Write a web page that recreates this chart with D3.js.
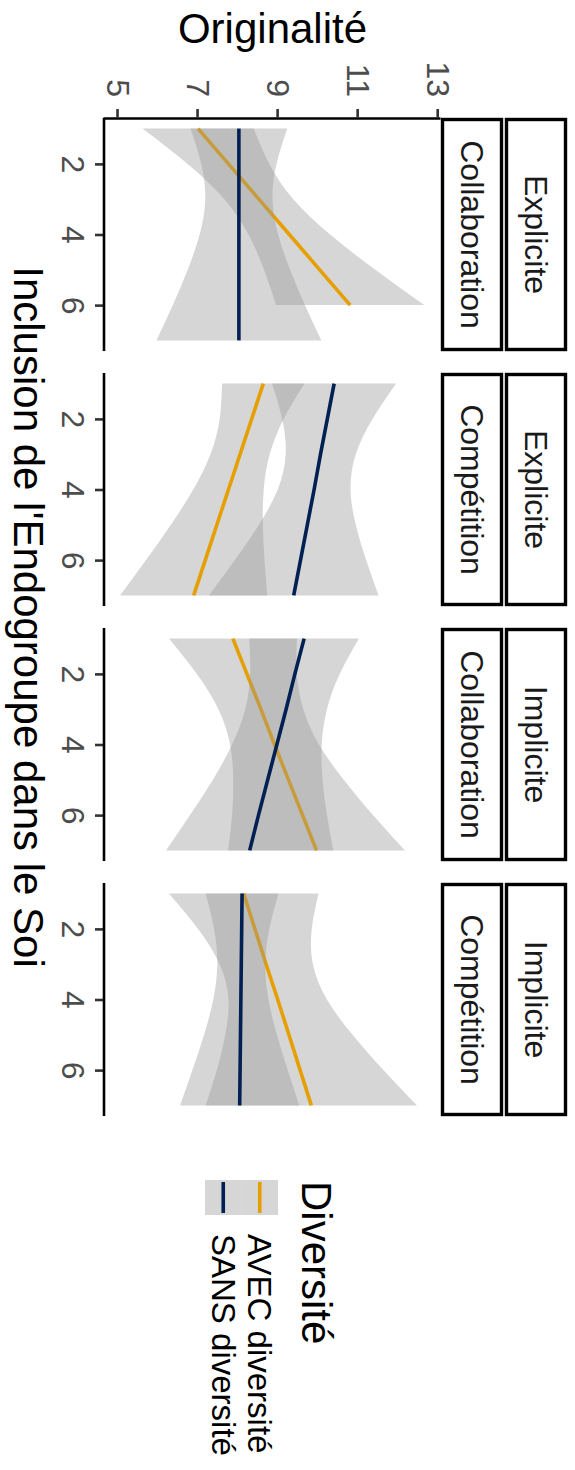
<!DOCTYPE html>
<html>
<head>
<meta charset="utf-8">
<script src="https://d3js.org/d3.v7.min.js"></script>
<style>
  html, body { margin: 0; padding: 0; background: #ffffff; }
  svg { display: block; font-family: "Liberation Sans", Arial, Helvetica, sans-serif; }
</style>
</head>
<body>
<script>
// ---------------- DATA ----------------
const xValues = [1, 2, 3, 4, 5, 6, 7];
const xTicks = [2, 4, 6];
const yTicks = [5, 7, 9, 11, 13];
const consignes = ["Explicite", "Explicite", "Implicite", "Implicite"];
const contextes = ["Collaboration", "Compétition", "Collaboration", "Compétition"];
const groupLabels = ["AVEC diversité", "SANS diversité"];
const groupColors = ["#E69F00", "#002054"];

// AVEC diversité : fitted line and confidence band per panel
const avecFit = [
  [7.00, 7.76, 8.52, 9.28, 10.04, 10.80],
  [8.63, 8.34, 8.05, 7.76, 7.47, 7.18, 6.89],
  [7.87, 8.22, 8.57, 8.91, 9.26, 9.61, 9.96],
  [8.14, 8.42, 8.70, 8.99, 9.27, 9.55, 9.83]
];
const avecLo = [
  [5.61, 6.74, 7.66, 8.26, 8.65, 8.95],
  [7.60, 7.54, 7.31, 6.88, 6.32, 5.70, 5.05],
  [6.27, 6.97, 7.51, 7.80, 7.88, 7.85, 7.75],
  [6.27, 7.00, 7.54, 7.76, 7.68, 7.47, 7.19]
];
const avecHi = [
  [8.39, 8.78, 9.38, 10.30, 11.43, 12.65],
  [9.66, 9.14, 8.79, 8.64, 8.62, 8.66, 8.73],
  [9.47, 9.47, 9.63, 10.02, 10.64, 11.37, 12.17],
  [10.01, 9.84, 9.87, 10.22, 10.86, 11.63, 12.47]
];
// SANS diversité
const sansFit = [
  [8.02, 8.02, 8.02, 8.02, 8.02, 8.02, 8.02],
  [10.40, 10.23, 10.06, 9.90, 9.73, 9.56, 9.39],
  [9.65, 9.42, 9.20, 8.97, 8.74, 8.51, 8.29],
  [8.10, 8.09, 8.08, 8.07, 8.06, 8.05, 8.04]
];
const sansLo = [
  [6.81, 7.08, 7.18, 7.04, 6.74, 6.37, 5.96],
  [8.85, 9.10, 9.19, 8.99, 8.52, 7.92, 7.27],
  [8.28, 8.30, 8.18, 7.85, 7.37, 6.80, 6.20],
  [7.19, 7.40, 7.48, 7.38, 7.15, 6.86, 6.55]
];
const sansHi = [
  [9.23, 8.96, 8.86, 9.00, 9.30, 9.67, 10.08],
  [11.95, 11.36, 10.94, 10.81, 10.94, 11.20, 11.51],
  [11.02, 10.54, 10.22, 10.09, 10.11, 10.22, 10.38],
  [9.01, 8.78, 8.68, 8.76, 8.97, 9.24, 9.53]
];

// ---------------- LAYOUT (drawn in landscape, then rotated) ----------------
const W = 1470, H = 575;
const panelW = 233, panelStep = 255, panelX0 = 118;
const panelTop = 134, panelBottom = 471;
const FONT_SMALL = 32, FONT_TITLE = 42, FONT_LEGEND = 33;

const svg = d3.select("body").append("svg")
  .attr("width", H).attr("height", W);

const root = svg.append("g").attr("transform", `translate(${H},0) rotate(90)`);

const yScale = d3.scaleLinear().domain([4.65, 13.07]).range([panelBottom, panelTop]);

const series = [
  { fit: avecFit, lo: avecLo, hi: avecHi },
  { fit: sansFit, lo: sansLo, hi: sansHi }
];

consignes.forEach((cons, p) => {
  const x0 = panelX0 + p * panelStep;
  const xScale = d3.scaleLinear().domain([0.7, 7.3]).range([x0, x0 + panelW]);
  const g = root.append("g");

  const area = d3.area()
    .x(d => xScale(d.x)).y0(d => yScale(d.lo)).y1(d => yScale(d.hi))
    .curve(d3.curveNatural);
  const line = d3.line().x(d => xScale(d.x)).y(d => yScale(d.y));

  series.forEach((s, gi) => {
    const fit = s.fit[p], lo = s.lo[p], hi = s.hi[p];
    const band = fit.map((v, i) => ({ x: xValues[i], lo: lo[i], hi: hi[i] }));
    const pts = fit.map((v, i) => ({ x: xValues[i], y: v }));
    g.append("path").datum(band).attr("d", area)
      .attr("fill", "#999999").attr("fill-opacity", 0.4).attr("stroke", "none");
    g.append("path").datum(pts).attr("d", line)
      .attr("fill", "none").attr("stroke", groupColors[gi]).attr("stroke-width", 3.6);
  });

  // x axis (bottom in landscape)
  const xAxis = g.append("g").attr("transform", `translate(0,${panelBottom})`)
    .call(d3.axisBottom(xScale).tickValues(xTicks).tickFormat(d3.format("d"))
      .tickSize(9).tickSizeOuter(0).tickPadding(10));
  xAxis.select(".domain").remove();
  xAxis.append("line").attr("x1", x0).attr("x2", x0 + panelW)
    .attr("stroke", "#000").attr("stroke-width", 2.6);
  xAxis.selectAll(".tick line").attr("stroke", "#333333").attr("stroke-width", 2.6);
  xAxis.selectAll(".tick text").attr("fill", "#4d4d4d")
    .style("font-size", FONT_SMALL + "px").style("font-family", "Liberation Sans, Arial, sans-serif");

  // y axis only on the first panel
  if (p === 0) {
    const yAxis = g.append("g").attr("transform", `translate(${x0},0)`)
      .call(d3.axisLeft(yScale).tickValues(yTicks).tickFormat(d3.format("d"))
        .tickSize(9).tickSizeOuter(0).tickPadding(12));
    yAxis.select(".domain").attr("stroke", "#000").attr("stroke-width", 2.6);
    yAxis.selectAll(".tick line").attr("stroke", "#333333").attr("stroke-width", 2.6);
    yAxis.selectAll(".tick text").attr("fill", "#4d4d4d")
      .style("font-size", FONT_SMALL + "px").style("font-family", "Liberation Sans, Arial, sans-serif");
  }

  // strips
  const strips = [
    { label: contextes[p], y0: 73.5, h: 59 },
    { label: cons, y0: 9.5, h: 59 }
  ];
  strips.forEach(st => {
    g.append("rect").attr("x", x0 + 1.5).attr("y", st.y0)
      .attr("width", panelW - 3).attr("height", st.h)
      .attr("fill", "#ffffff").attr("stroke", "#000").attr("stroke-width", 3.4);
    g.append("text").attr("x", x0 + panelW / 2).attr("y", st.y0 + st.h / 2)
      .attr("text-anchor", "middle").attr("dominant-baseline", "central")
      .attr("fill", "#1a1a1a").style("font-size", FONT_SMALL + "px")
      .text(st.label);
  });
});

// axis titles
const firstX = panelX0, lastX = panelX0 + 3 * panelStep + panelW;
root.append("text").attr("x", (firstX + lastX) / 2).attr("y", 561)
  .attr("text-anchor", "middle").attr("fill", "#000").style("font-size", FONT_TITLE + "px")
  .text("Inclusion de l'Endogroupe dans le Soi");
root.append("text")
  .attr("transform", `translate(43,${(panelTop + panelBottom) / 2}) rotate(-90)`)
  .attr("text-anchor", "middle").attr("fill", "#000").style("font-size", FONT_TITLE + "px")
  .text("Originalité");

// legend
const leg = root.append("g");
leg.append("text").attr("x", 1181).attr("y", 273)
  .attr("fill", "#000").style("font-size", FONT_TITLE + "px").text("Diversité");
const keyH = 36.5, keyTop = 297;
groupLabels.forEach((lab, i) => {
  const ky = keyTop + i * keyH;
  leg.append("rect").attr("x", 1180).attr("y", ky).attr("width", 35).attr("height", keyH)
    .attr("fill", "#999999").attr("fill-opacity", 0.4);
  leg.append("line").attr("x1", 1182).attr("x2", 1213)
    .attr("y1", ky + keyH / 2).attr("y2", ky + keyH / 2)
    .attr("stroke", groupColors[i]).attr("stroke-width", 3.6);
  leg.append("text").attr("x", 1234).attr("y", ky + keyH / 2)
    .attr("dominant-baseline", "central").attr("fill", "#000")
    .style("font-size", FONT_LEGEND + "px").text(lab);
});
</script>
</body>
</html>
